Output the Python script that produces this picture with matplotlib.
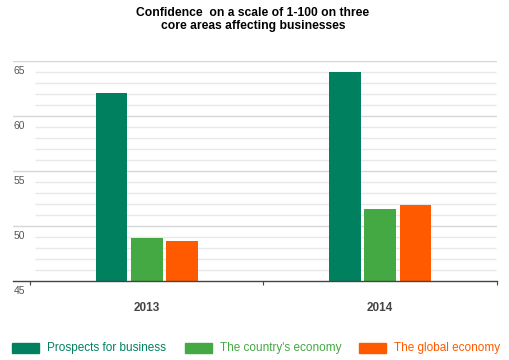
import matplotlib
matplotlib.use('Agg')
import matplotlib.pyplot as plt
from matplotlib.patches import Rectangle
from matplotlib.transforms import blended_transform_factory, offset_copy
import numpy as np

plt.rcParams['font.family'] = ['Liberation Sans', 'DejaVu Sans']

# Data
years = ['2013', '2014']
series = ["Prospects for business", "The country's economy", "The global economy"]
prospects = [62.1, 64.0]
country = [48.95, 51.6]
global_econ = [48.7, 51.9]
colors = ['#00805F', '#44A843', '#FF5A00']

fig = plt.figure(figsize=(5.09, 3.60), dpi=100)
W, H = 509, 360
ax = fig.add_axes([13 / W, (H - 281.3) / H, 484 / W, 220.3 / H])

x = np.arange(len(years))
width = 0.135
step = 0.15
for i, vals in enumerate([prospects, country, global_econ]):
    ax.bar(x + (i - 1) * step, np.array(vals) - 45, bottom=45, width=width,
           color=colors[i], zorder=3)

ax.set_ylim(45, 65)
ax.set_xlim(-0.5728, 1.5)

# grid lines: light minor every 1, slightly darker major every 5
for v in range(46, 66):
    if v % 5 == 0:
        ax.axhline(v, color='#d6d6d6', lw=1.0, zorder=1)
    else:
        ax.hlines(v, -0.4786, 1.496, color='#e8e8e8', lw=1.0, zorder=1)

# y labels sit just below their grid line at the far left
trans = blended_transform_factory(ax.transAxes, ax.transData)
trans = offset_copy(trans, fig=fig, x=0, y=-3.5, units='points')
for v in range(45, 70, 5):
    ax.text(0.002, v, str(v), transform=trans, ha='left', va='top',
            fontsize=7.5, color='#555555')
ax.set_yticks([])

for s in ['top', 'right', 'left']:
    ax.spines[s].set_visible(False)
ax.spines['bottom'].set_color('#444444')
ax.spines['bottom'].set_linewidth(1.0)
ax.spines['bottom'].set_zorder(4)

ax.set_xticks([-0.5, 0.5, 1.5])
ax.set_xticklabels([])
ax.tick_params(axis='x', which='major', length=3, color='#444444', direction='out')
ax.set_xticks(x, minor=True)
ax.set_xticklabels(years, minor=True, fontweight='bold', fontsize=8.5, color='#444444')
ax.tick_params(axis='x', which='minor', length=0, pad=15)

fig.text(253 / W, 1 - 7 / H, "Confidence  on a scale of 1-100 on three\ncore areas affecting businesses",
         ha='center', va='top', fontsize=8.7, fontweight='bold', linespacing=1.15)

# legend
legend_x = [12, 185, 359]
for i, name in enumerate(series):
    fig.patches.append(Rectangle((legend_x[i] / W, (H - 353) / H), 27 / W, 10 / H,
                                 transform=fig.transFigure, color=colors[i]))
    fig.text((legend_x[i] + 35) / W, (H - 348) / H, name, ha='left', va='center',
             fontsize=8.5, color=colors[i])

fig.savefig('out.png', dpi=100)
